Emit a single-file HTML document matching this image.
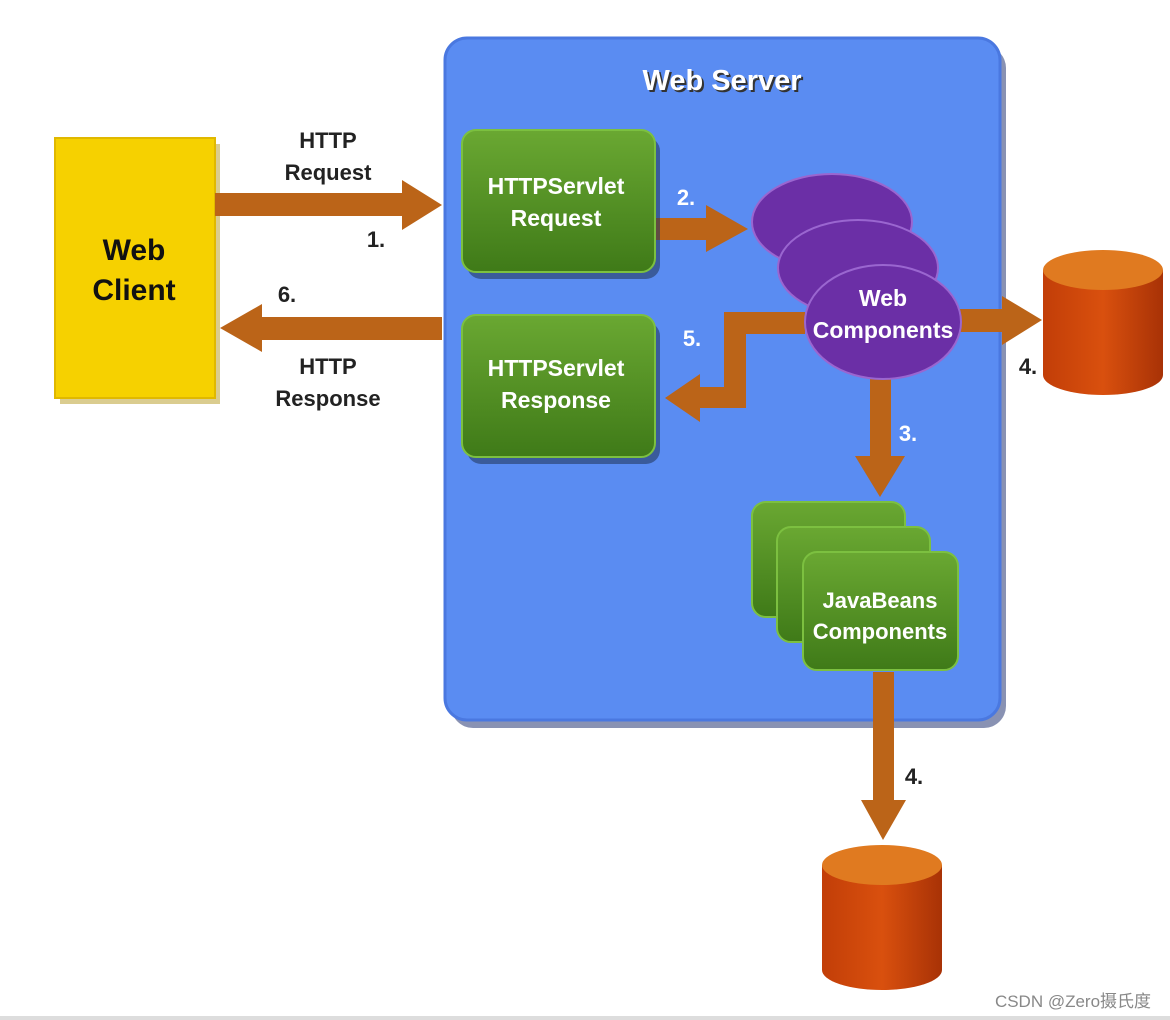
<!DOCTYPE html>
<html><head><meta charset="utf-8"><style>
html,body{margin:0;padding:0;background:#fff;width:1170px;height:1020px;overflow:hidden}
text{font-family:"Liberation Sans",sans-serif;font-weight:bold}
</style></head><body>
<svg width="1170" height="1020" viewBox="0 0 1170 1020" xmlns="http://www.w3.org/2000/svg">
<defs>
<linearGradient id="cyl" x1="0" x2="1"><stop offset="0" stop-color="#c23e08"/><stop offset="0.5" stop-color="#d9500e"/><stop offset="1" stop-color="#a83206"/></linearGradient>
<linearGradient id="grn" x1="0" y1="0" x2="0" y2="1"><stop offset="0" stop-color="#6aa832"/><stop offset="1" stop-color="#3f7a18"/></linearGradient>
</defs>
<!-- server box -->
<rect x="451" y="46" width="555" height="682" rx="22" fill="#3a4a80" opacity="0.6"/>
<rect x="445" y="38" width="555" height="682" rx="22" fill="#5a8cf2" stroke="#4a78e0" stroke-width="3"/>
<text x="724" y="92" font-size="29" fill="#333" text-anchor="middle">Web Server</text>
<text x="722" y="90" font-size="29" fill="#fff" text-anchor="middle">Web Server</text>
<!-- web client -->
<rect x="60" y="144" width="160" height="260" fill="#b59a20" opacity="0.5"/>
<rect x="55" y="138" width="160" height="260" fill="#f6d100" stroke="#e0b800" stroke-width="2"/>
<text x="134" y="260" font-size="30" fill="#111" text-anchor="middle">Web</text>
<text x="134" y="300" font-size="30" fill="#111" text-anchor="middle">Client</text>
<g fill="#bb6418">
<!-- arrow 1 -->
<polygon points="215,193 402,193 402,180 442,205 402,230 402,216 215,216"/>
<!-- arrow 6 -->
<polygon points="442,317 262,317 262,304 220,328 262,352 262,340 442,340"/>
<!-- arrow 2 -->
<polygon points="655,218 706,218 706,205 748,229 706,252 706,240 655,240"/>
<!-- arrow 5 -->
<polygon points="805,312 724,312 724,387 700,387 700,374 665,398 700,422 700,408 746,408 746,334 805,334"/>
<!-- arrow 4 right -->
<polygon points="950,309 1002,309 1002,296 1042,320 1002,345 1002,332 950,332"/>
<!-- arrow 3 -->
<polygon points="870,370 891,370 891,456 905,456 880,497 855,456 870,456"/>
<!-- arrow 4 down -->
<polygon points="873,672 894,672 894,800 906,800 883,840 861,800 873,800"/>
</g>
<g font-size="22" fill="#222" text-anchor="middle">
<text x="328" y="148">HTTP</text><text x="328" y="180">Request</text>
<text x="376" y="247">1.</text><text x="287" y="302">6.</text>
<text x="328" y="374">HTTP</text><text x="328" y="406">Response</text>
<text x="1028" y="374">4.</text><text x="914" y="784">4.</text>
</g>
<g font-size="22" fill="#fff" text-anchor="middle">
<text x="686" y="205">2.</text><text x="692" y="346">5.</text><text x="908" y="441">3.</text>
</g>
<!-- servlet boxes -->
<rect x="467" y="137" width="193" height="142" rx="14" fill="#243a60" opacity="0.6"/>
<rect x="462" y="130" width="193" height="142" rx="14" fill="url(#grn)" stroke="#7cc040" stroke-width="2"/>
<text x="556" y="194" font-size="23" fill="#fff" text-anchor="middle">HTTPServlet</text>
<text x="556" y="226" font-size="23" fill="#fff" text-anchor="middle">Request</text>
<rect x="467" y="322" width="193" height="142" rx="14" fill="#243a60" opacity="0.6"/>
<rect x="462" y="315" width="193" height="142" rx="14" fill="url(#grn)" stroke="#7cc040" stroke-width="2"/>
<text x="556" y="376" font-size="23" fill="#fff" text-anchor="middle">HTTPServlet</text>
<text x="556" y="408" font-size="23" fill="#fff" text-anchor="middle">Response</text>
<!-- ellipses -->
<g stroke="#9a66d0" stroke-width="2" fill="#6b2fa6">
<ellipse cx="832" cy="222" rx="80" ry="48"/>
<ellipse cx="858" cy="268" rx="80" ry="48"/>
<ellipse cx="883" cy="322" rx="78" ry="57"/>
</g>
<text x="883" y="306" font-size="23" fill="#fff" text-anchor="middle">Web</text>
<text x="883" y="338" font-size="23" fill="#fff" text-anchor="middle">Components</text>
<!-- javabeans -->
<g stroke="#7cc040" stroke-width="2" fill="url(#grn)">
<rect x="752" y="502" width="153" height="115" rx="14"/>
<rect x="777" y="527" width="153" height="115" rx="14"/>
<rect x="803" y="552" width="155" height="118" rx="14"/>
</g>
<text x="880" y="608" font-size="22" fill="#fff" text-anchor="middle">JavaBeans</text>
<text x="880" y="639" font-size="22" fill="#fff" text-anchor="middle">Components</text>
<!-- cylinders -->
<g>
<path d="M1043,270 V375 A60,20 0 0 0 1163,375 V270 Z" fill="url(#cyl)"/>
<ellipse cx="1103" cy="270" rx="60" ry="20" fill="#e07a20"/>
<path d="M822,865 V970 A60,20 0 0 0 942,970 V865 Z" fill="url(#cyl)"/>
<ellipse cx="882" cy="865" rx="60" ry="20" fill="#e07a20"/>
</g>
<text x="1073" y="1007" font-size="17" fill="#888" text-anchor="middle" style="font-weight:normal;font-family:'Liberation Sans','Noto Sans CJK SC',sans-serif">CSDN @Zero摄氏度</text>
<rect x="0" y="1016" width="1170" height="4" fill="#ddd"/>
</svg>
</body></html>
